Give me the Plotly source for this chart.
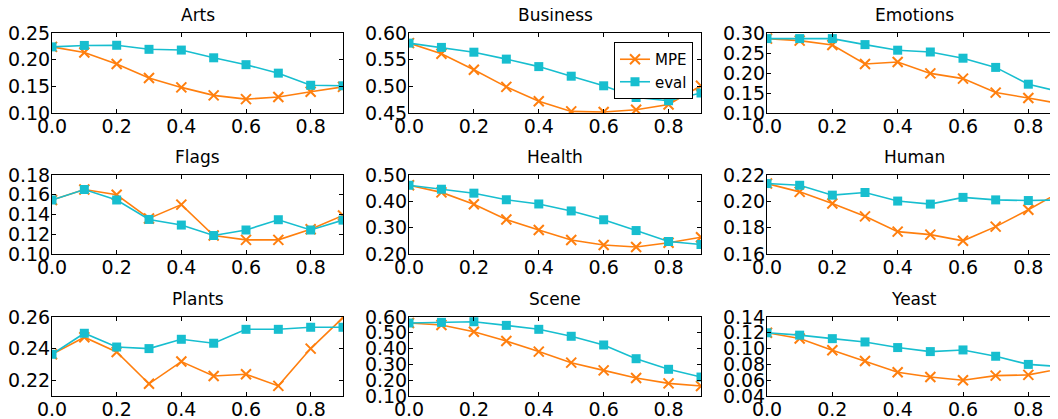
import plotly.graph_objects as go

x_vals = [0.0, 0.1, 0.2, 0.3, 0.4, 0.5, 0.6, 0.7, 0.8, 0.9]
titles = ["Arts", "Business", "Emotions", "Flags", "Health", "Human", "Plants", "Scene", "Yeast"]

arts_mpe = [0.224, 0.2133, 0.192, 0.1655, 0.148, 0.133, 0.126, 0.130, 0.140, 0.149]
arts_eval = [0.224, 0.2267, 0.227, 0.2194, 0.218, 0.2035, 0.1906, 0.1747, 0.152, 0.151]
business_mpe = [0.581, 0.561, 0.531, 0.499, 0.472, 0.453, 0.452, 0.456, 0.466, 0.501]
business_eval = [0.581, 0.573, 0.564, 0.551, 0.537, 0.519, 0.501, 0.479, 0.473, 0.4875]
emotions_mpe = [0.286, 0.281, 0.270, 0.2225, 0.2275, 0.199, 0.186, 0.151, 0.1375, 0.123]
emotions_eval = [0.286, 0.286, 0.286, 0.271, 0.257, 0.2525, 0.237, 0.214, 0.172, 0.1525]
flags_mpe = [0.1547, 0.1653, 0.160, 0.136, 0.150, 0.1187, 0.1143, 0.1143, 0.125, 0.139]
flags_eval = [0.1547, 0.1653, 0.1547, 0.135, 0.1293, 0.1187, 0.1243, 0.1347, 0.1243, 0.1343]
health_mpe = [0.461, 0.434, 0.389, 0.331, 0.291, 0.253, 0.234, 0.2265, 0.2425, 0.2635]
health_eval = [0.461, 0.446, 0.431, 0.406, 0.390, 0.3635, 0.330, 0.289, 0.2475, 0.236]
human_mpe = [0.2135, 0.2072, 0.1984, 0.1886, 0.177, 0.1747, 0.170, 0.1808, 0.1936, 0.2074]
human_eval = [0.2135, 0.2122, 0.2047, 0.2067, 0.2002, 0.1979, 0.203, 0.2011, 0.2006, 0.2011]
plants_mpe = [0.2364, 0.2472, 0.2379, 0.2177, 0.2318, 0.2227, 0.2238, 0.2164, 0.240, 0.2596]
plants_eval = [0.2364, 0.2497, 0.241, 0.240, 0.2459, 0.2434, 0.2522, 0.2522, 0.2535, 0.2535]
scene_mpe = [0.562, 0.549, 0.507, 0.448, 0.381, 0.311, 0.262, 0.214, 0.180, 0.163]
scene_eval = [0.562, 0.566, 0.570, 0.547, 0.522, 0.478, 0.423, 0.336, 0.269, 0.220]
yeast_mpe = [0.120, 0.1128, 0.0979, 0.0844, 0.070, 0.0641, 0.060, 0.0658, 0.0667, 0.0747]
yeast_eval = [0.120, 0.117, 0.1126, 0.1084, 0.1013, 0.0962, 0.0983, 0.0903, 0.080, 0.0772]

mpe_series = [arts_mpe, business_mpe, emotions_mpe, flags_mpe, health_mpe, human_mpe, plants_mpe, scene_mpe, yeast_mpe]
eval_series = [arts_eval, business_eval, emotions_eval, flags_eval, health_eval, human_eval, plants_eval, scene_eval, yeast_eval]

y_ranges = [[0.10, 0.25], [0.45, 0.60], [0.10, 0.30], [0.10, 0.18], [0.20, 0.50],
            [0.16, 0.22], [0.21, 0.26], [0.10, 0.60], [0.04, 0.14]]
y_ticks = [[0.10, 0.15, 0.20, 0.25], [0.45, 0.50, 0.55, 0.60], [0.10, 0.15, 0.20, 0.25, 0.30],
           [0.10, 0.12, 0.14, 0.16, 0.18], [0.20, 0.30, 0.40, 0.50], [0.16, 0.18, 0.20, 0.22],
           [0.22, 0.24, 0.26], [0.10, 0.20, 0.30, 0.40, 0.50, 0.60],
           [0.04, 0.06, 0.08, 0.10, 0.12, 0.14]]
x_ticks = [0.0, 0.2, 0.4, 0.6, 0.8]

# page body has an 8px margin: figure placed at (8, 8) of the window
OFF = 8
W, H = 1058 - OFF, 419 - OFF
col_px = [(52, 343), (409, 701), (767, 1058)]
row_px = [(33, 113), (175, 254), (317, 396)]
ORANGE = "#ff7f0e"
CYAN = "#17becf"
FONT = "DejaVu Sans"


def px_x(p):
    return (p - OFF) / W


def px_y(p):
    return 1 - (p - OFF) / H


fig = go.Figure()
layout = dict(
    width=W, height=H, autosize=False,
    margin=dict(l=0, r=0, t=0, b=0),
    paper_bgcolor="white", plot_bgcolor="white",
    font=dict(family=FONT, color="black", size=19),
    showlegend=True,
    legend=dict(x=px_x(693), y=px_y(42), xanchor="right", yanchor="top",
                bgcolor="white", bordercolor="black", borderwidth=1,
                tracegroupgap=0, font=dict(size=15, family=FONT)),
)
annotations = []
for i in range(9):
    r, c = divmod(i, 3)
    ax = "" if i == 0 else str(i + 1)
    x0, x1 = col_px[c]
    y0, y1 = row_px[r]
    xmax = 0.9 if c < 2 else 0.9 * (x1 - x0) / (1061 - x0)
    fig.add_trace(go.Scatter(
        x=x_vals, y=mpe_series[i], mode="lines+markers", name="MPE",
        showlegend=(i == 0),
        line=dict(color=ORANGE, width=1.6),
        marker=dict(symbol="x-thin", size=10, color=ORANGE, line=dict(color=ORANGE, width=2)),
        xaxis="x" + ax, yaxis="y" + ax))
    fig.add_trace(go.Scatter(
        x=x_vals, y=eval_series[i], mode="lines+markers", name="eval",
        showlegend=(i == 0),
        line=dict(color=CYAN, width=1.6),
        marker=dict(symbol="square", size=9, color=CYAN, line=dict(color=CYAN, width=0)),
        xaxis="x" + ax, yaxis="y" + ax))
    layout["xaxis" + ax] = dict(
        domain=[px_x(x0), px_x(x1)], range=[0, xmax], anchor="y" + ax,
        tickvals=x_ticks, ticktext=["%.1f" % v for v in x_ticks],
        ticks="inside", ticklen=4, tickcolor="black", automargin=False,
        ticklabelstandoff=-4,
        showline=True, linecolor="black", linewidth=1, mirror="ticks",
        showgrid=False, zeroline=False, tickfont=dict(size=19))
    layout["yaxis" + ax] = dict(
        domain=[px_y(y1), px_y(y0)], range=y_ranges[i], anchor="x" + ax,
        tickvals=y_ticks[i], ticktext=["%.2f" % v for v in y_ticks[i]],
        ticks="inside", ticklen=4, tickcolor="black", automargin=False,
        ticklabelstandoff=-3,
        showline=True, linecolor="black", linewidth=1,
        mirror=("ticks" if c < 2 else False),
        showgrid=False, zeroline=False, tickfont=dict(size=19))
    annotations.append(dict(
        text=titles[i], x=px_x((x0 + x1) / 2 if c < 2 else (x0 + 1061) / 2),
        y=px_y(y0 - 18), xref="paper", yref="paper",
        xanchor="center", yanchor="middle", showarrow=False,
        font=dict(size=17, family=FONT, color="black")))
layout["annotations"] = annotations
fig.update_layout(**layout)
fig.write_html("out.html")
